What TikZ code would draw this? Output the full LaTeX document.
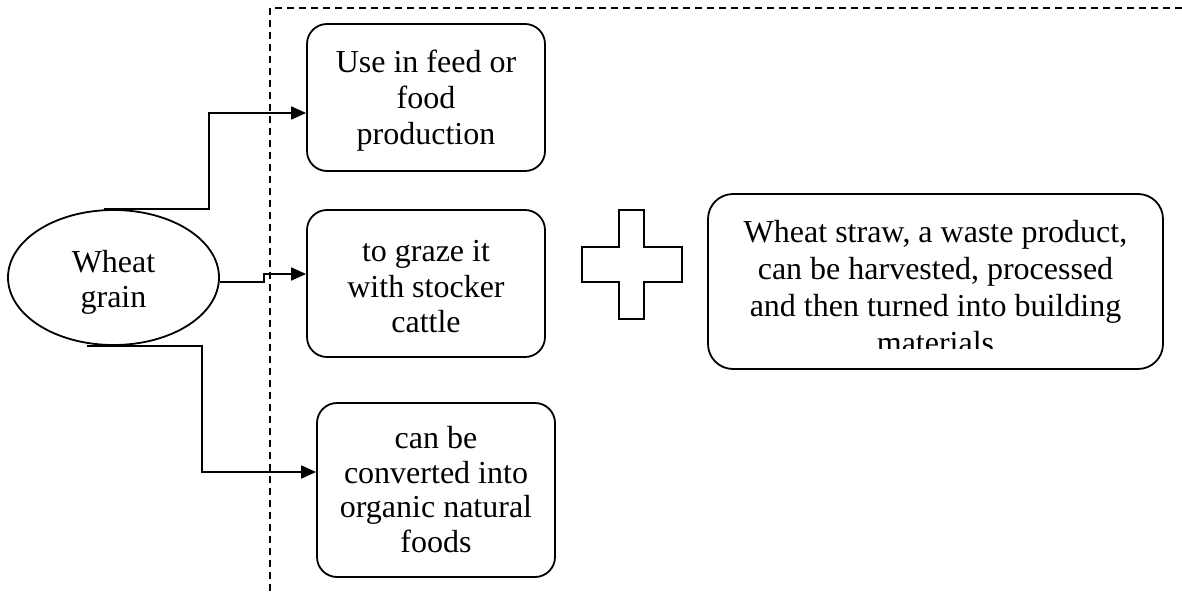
\documentclass[tikz,border=0pt]{standalone}
\usepackage{fontspec}
\setmainfont{Liberation Serif}
\usetikzlibrary{arrows.meta,shapes.geometric}
\newcommand\topline[1]{\rule{0pt}{#1}}
\newcommand\botline{\rule[-8pt]{0pt}{8pt}}
\begin{document}
\begin{tikzpicture}[x=1pt,y=-1pt,
  txt/.style={font=\fontsize{32}{#1}\selectfont, align=center},
  txt/.default=35.5,
  rbox/.style={draw, line width=1.8pt, rounded corners=20pt, inner sep=0pt, minimum width=238pt},
  conn/.style={line width=1.8pt, -{Triangle[length=15pt,width=13pt]}},
  sep/.style={line width=1.8pt, dash pattern=on 7pt off 5pt}]
\useasboundingbox (0,0) rectangle (1182,591);
% dashed frame
\draw[sep] (270,591) -- (270,8) -- (1182,8);
% nodes
\node[draw, ellipse, line width=1.8pt, minimum width=211pt, minimum height=135pt, inner sep=0pt, txt=35] (grain) at (113.5,277.5) {\topline{32pt}Wheat\\grain\botline};
\node[rbox, txt=36, minimum height=147pt] (feed) at (426,97.5) {\topline{29.6pt}Use in feed or\\food\\production\botline};
\node[rbox, txt=35.5, minimum height=147pt] (graze) at (426,283.5) {\topline{35pt}to graze it\\with stocker\\cattle\botline};
\node[rbox, txt=34.7, minimum height=174pt] (organic) at (436,490) {\topline{28.7pt}can be\\converted into\\organic natural\\foods\botline};
% plus sign
\draw[line width=1.5pt] (582,247) -- (619,247) -- (619,210) -- (644,210) -- (644,247) -- (682,247) -- (682,282) -- (644,282) -- (644,319) -- (619,319) -- (619,282) -- (582,282) -- cycle;
% straw box
\node[draw, line width=1.8pt, rounded corners=25pt, minimum width=455pt, minimum height=175pt, inner sep=0pt] (straw) at (935.5,281.5) {};
\begin{scope}
\clip (708,194) rectangle (1163,348);
\node[txt=37, inner sep=0pt, anchor=north] (strawtext) at (935.5,218.3) {\topline{24pt}Wheat straw, a waste product,\\can be harvested, processed\\and then turned into building\\materials};
\end{scope}
% connectors
\draw[conn] ([xshift=-10pt]grain.north) -- ++(105.5,0) |- ([yshift=-15.5pt]feed.west);
\draw[conn] ([yshift=-4.5pt]grain.east) -- ++(44,0) |- ([yshift=9.5pt]graze.west);
\draw[conn] ([xshift=-26.5pt]grain.south) -- ++(115,0) |- ([yshift=18pt]organic.west);
\end{tikzpicture}
\end{document}
